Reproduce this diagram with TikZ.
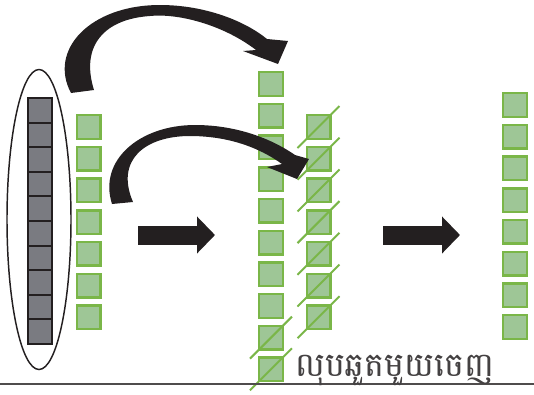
\documentclass[tikz,border=0pt]{standalone}
\usepackage{fontspec}
\newfontfamily\khmerfont[Script=Khmer]{Battambang}
\usetikzlibrary{positioning,arrows.meta,shapes.geometric,calc}
\definecolor{sqfill}{RGB}{158,198,150}
\definecolor{sqedge}{RGB}{122,182,72}
\definecolor{cellgray}{RGB}{122,123,129}
\definecolor{ink}{RGB}{35,31,32}

\begin{document}
\begin{tikzpicture}[
  x=0.75pt, y=-0.75pt,
  gsq/.style={rectangle,draw=sqedge,fill=sqfill,line width=1.8pt,
              minimum size=17.7pt,inner sep=0pt},
  cell/.style={rectangle,draw=ink,fill=cellgray,line width=1.4pt,
               minimum width=18.2pt,minimum height=18.45pt,inner sep=0pt},
  xout/.style={draw=sqedge,line width=1.5pt},
  blk/.style={-{Triangle[length=13.5pt,width=27pt]},line width=14.25pt,ink},
  swoosh/.style={fill=ink},
  lbl/.style={font=\khmerfont\fontsize{25}{27}\selectfont,text=ink!85,inner sep=0pt},
]
\useasboundingbox (0,0) rectangle (534,394);

% ===== input: one grey vector and its green copies =====
\foreach \i in {1,...,10} \node[cell] (g\i) at (40,{110.3+24.6*(\i-1)}) {};
\node[draw=ink,ellipse,line width=1.1pt,minimum width=48pt,minimum height=225pt,
      inner sep=0pt] (grp) at (39,219.5) {};
\foreach \i in {1,...,7} \node[gsq] (l\i) at (88.5,{127+31.7*(\i-1)}) {};

% ===== middle: stacked columns, extras struck out =====
\foreach \i in {1,...,10} \node[gsq] (m\i) at (271,{84+31.7*(\i-1)}) {};
\foreach \i in {1,...,7} \node[gsq] (c\i) at (318.5,{127+31.7*(\i-1)}) {};
\foreach \n in {c1,c2,c3,c4,c5,c6,c7,m9,m10}
  \draw[xout] ($(\n.south west)+(-8,8)$) -- ($(\n.north east)+(8,-8)$);

% ===== result =====
\foreach \i in {1,...,8} \node[gsq] (r\i) at (515,{105+31.7*(\i-1)}) {};

% block arrows
\coordinate (a1s) at (138,235); \coordinate (a1e) at (215,235);
\coordinate (a2s) at (383,235); \coordinate (a2e) at (460,235);
\draw[blk] (a1s) -- (a1e);
\draw[blk] (a2s) -- (a2e);

% curved arrows
\fill[swoosh] (71,93) .. controls (48,50) and (90,5) .. (160,5)
  .. controls (205,5) and (245,21) .. (267,39) -- (288,41) -- (278,64) -- (243,51) -- (256,50)
  .. controls (225,26) and (180,13) .. (150,16)
  .. controls (105,19) and (80,45) .. (94,90) -- cycle;
\fill[swoosh] (112,204) .. controls (98,160) and (140,125) .. (195,125)
  .. controls (240,125) and (275,141) .. (295,155) -- (309,159) -- (297,179) -- (267,167) -- (282,164)
  .. controls (250,141) and (215,136) .. (190,136)
  .. controls (145,136) and (115,160) .. (133,202) -- cycle;

% base rule and note
\draw[ink!80,line width=1.1pt] (0,384) -- (534,384);
\node[lbl,anchor=base west] (note) at (295,376) {លុបឆួតមួយចេញ};
\end{tikzpicture}
\end{document}
